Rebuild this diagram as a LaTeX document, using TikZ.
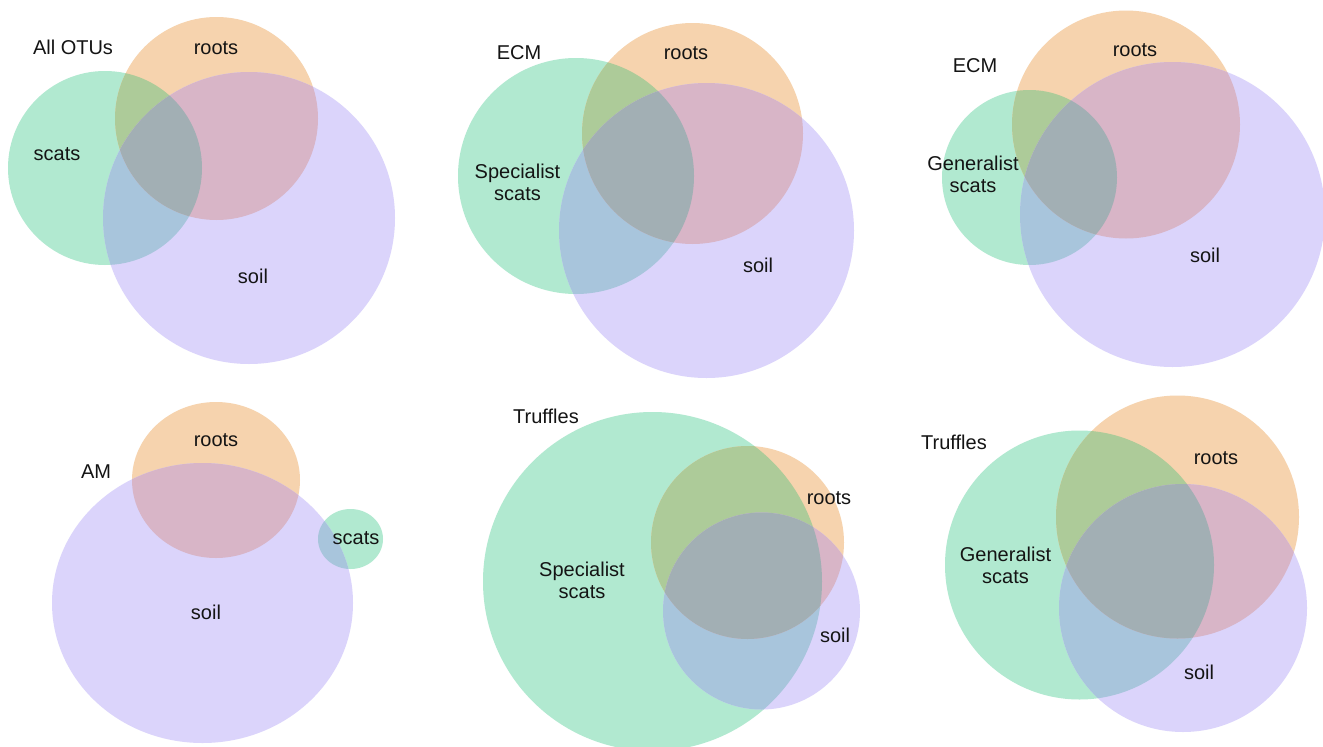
\documentclass[tikz,border=0pt]{standalone}
\usepackage{fontspec}
\setmainfont{Liberation Sans}
\definecolor{vg}{RGB}{177,233,208}
\definecolor{vo}{RGB}{246,211,174}
\definecolor{vp}{RGB}{219,212,251}
\definecolor{vgo}{RGB}{173,203,153}
\definecolor{vop}{RGB}{216,181,199}
\definecolor{vgp}{RGB}{168,197,220}
\definecolor{vall}{RGB}{162,175,180}
\newcommand\myvenn[3]{%
  \fill[vg] #1; \fill[vo] #2; \fill[vp] #3;
  \begin{scope}\clip #1; \fill[vgo] #2; \end{scope}
  \begin{scope}\clip #1; \fill[vgp] #3; \end{scope}
  \begin{scope}\clip #2; \fill[vop] #3; \end{scope}
  \begin{scope}\clip #1; \clip #2; \fill[vall] #3; \end{scope}
}
\begin{document}
\begin{tikzpicture}[x=1pt,y=-1pt,
  lbl/.style={inner sep=0pt,align=center,font=\fontsize{20}{22}\selectfont,text=black!92}]
\useasboundingbox (0,0) rectangle (1323,747);
\fill[white] (0,0) rectangle (1323,747);
% Panel 1: All OTUs
\myvenn{(105,168) circle (97pt)}{(216.5,118.5) circle (101.5pt)}{(249,218) circle (146pt)}
\node[lbl] (t1) at (73,47) {All OTUs};
\node[lbl] (r1) at (216,48) {roots};
\node[lbl] (g1) at (57,154) {scats};
\node[lbl] (s1) at (253,276) {soil};
% Panel 2: ECM specialist
\myvenn{(576,176) circle (118pt)}{(692.5,133.5) circle (110.5pt)}{(706.5,230.5) circle (147.5pt)}
\node[lbl] (t2) at (519,53) {ECM};
\node[lbl] (r2) at (686,53) {roots};
\node[lbl] (g2) at (517.5,182) {Specialist\\scats};
\node[lbl] (s2) at (758,265) {soil};
% Panel 3: ECM generalist
\myvenn{(1029.5,177.5) circle (87.5pt)}{(1126,124.5) circle (114pt)}{(1172.5,214.5) circle (152.5pt)}
\node[lbl] (t3) at (975,66) {ECM};
\node[lbl] (r3) at (1135,50) {roots};
\node[lbl] (g3) at (973,174) {Generalist\\scats};
\node[lbl] (s3) at (1205,255) {soil};
% Panel 4: AM
\myvenn{(350.5,539) ellipse [x radius=32.5pt,y radius=30pt]}{(216,480) ellipse [x radius=84pt,y radius=78pt]}{(202.5,603) ellipse [x radius=150.5pt,y radius=140pt]}
\node[lbl] (t4) at (96,472) {AM};
\node[lbl] (r4) at (216,440) {roots};
\node[lbl] (g4) at (356,538) {scats};
\node[lbl] (s4) at (206,612) {soil};
% Panel 5: Truffles specialist
\myvenn{(652.5,581.5) circle (169.5pt)}{(747.5,542.5) circle (96.5pt)}{(761.5,611) circle (98.5pt)}
\node[lbl] (t5) at (546,416) {Truffles};
\node[lbl] (r5) at (829,498) {roots};
\node[lbl] (g5) at (582,580) {Specialist\\scats};
\node[lbl] (s5) at (835,635) {soil};
% Panel 6: Truffles generalist
\myvenn{(1079.5,565) circle (134.5pt)}{(1177.5,517) circle (121.5pt)}{(1183,608) circle (124pt)}
\node[lbl] (t6) at (954,442) {Truffles};
\node[lbl] (r6) at (1216,458) {roots};
\node[lbl] (g6) at (1005.5,565) {Generalist\\scats};
\node[lbl] (s6) at (1199,672) {soil};
\end{tikzpicture}
\end{document}
